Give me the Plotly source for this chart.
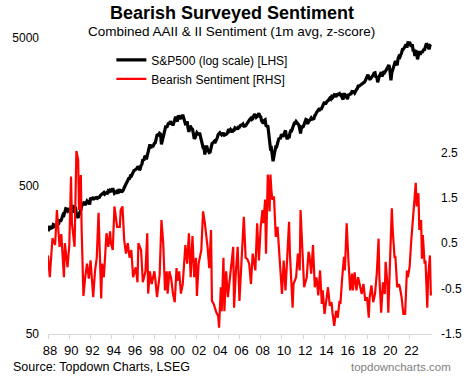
import math
import pandas as pd
import plotly.graph_objects as go

# ---------------- data ----------------
# S&P 500 month-end levels, Dec-1987 .. Dec-2023 (plotted at the start of the following month)
spx_start = "1988-01-01"
spx = [
    247,
    257, 268, 259, 261, 262, 274, 272, 262, 272, 279, 274, 278,
    297, 289, 295, 310, 321, 318, 346, 351, 349, 340, 346, 353,
    329, 332, 340, 331, 361, 358, 356, 323, 306, 304, 322, 330,
    344, 367, 375, 375, 390, 371, 388, 395, 388, 392, 375, 417,
    409, 413, 404, 415, 415, 408, 424, 414, 418, 419, 431, 436,
    439, 443, 452, 440, 450, 451, 448, 464, 459, 468, 462, 466,
    482, 467, 446, 451, 457, 444, 458, 475, 463, 472, 454, 459,
    470, 487, 501, 515, 533, 545, 562, 562, 584, 582, 605, 616,
    636, 640, 646, 654, 669, 671, 640, 652, 687, 705, 757, 741,
    786, 791, 757, 801, 848, 885, 954, 899, 947, 915, 955, 970,
    980, 1049, 1102, 1112, 1091, 1134, 1121, 957, 1017, 1099, 1164, 1229,
    1280, 1238, 1286, 1335, 1302, 1373, 1329, 1320, 1283, 1363, 1389, 1469,
    1394, 1366, 1499, 1452, 1421, 1455, 1431, 1518, 1437, 1429, 1315, 1320,
    1366, 1240, 1160, 1249, 1256, 1224, 1211, 1134, 1041, 1060, 1139, 1148,
    1130, 1107, 1147, 1077, 1067, 990, 912, 916, 815, 886, 936, 880,
    856, 841, 848, 917, 964, 975, 990, 1008, 996, 1051, 1058, 1112,
    1131, 1145, 1126, 1107, 1121, 1141, 1102, 1104, 1115, 1130, 1174, 1212,
    1181, 1204, 1181, 1157, 1192, 1191, 1234, 1220, 1229, 1207, 1249, 1248,
    1280, 1281, 1295, 1311, 1270, 1270, 1277, 1304, 1336, 1378, 1401, 1418,
    1438, 1407, 1421, 1482, 1531, 1503, 1455, 1474, 1527, 1549, 1481, 1468,
    1379, 1331, 1323, 1386, 1400, 1280, 1267, 1283, 1165, 969, 896, 903,
    826, 735, 798, 873, 919, 919, 987, 1021, 1057, 1036, 1096, 1115,
    1074, 1104, 1169, 1187, 1089, 1031, 1102, 1049, 1141, 1183, 1181, 1258,
    1286, 1327, 1326, 1364, 1345, 1321, 1292, 1219, 1131, 1253, 1247, 1258,
    1312, 1366, 1408, 1398, 1310, 1362, 1379, 1407, 1441, 1412, 1416, 1426,
    1498, 1515, 1569, 1598, 1631, 1606, 1686, 1633, 1682, 1757, 1806, 1848,
    1783, 1859, 1872, 1884, 1924, 1960, 1931, 2003, 1972, 2018, 2068, 2059,
    1995, 2105, 2068, 2086, 2107, 2063, 2104, 1972, 1920, 2079, 2080, 2044,
    1940, 1932, 2060, 2065, 2097, 2099, 2174, 2171, 2168, 2126, 2199, 2239,
    2279, 2364, 2363, 2384, 2412, 2423, 2470, 2472, 2519, 2575, 2648, 2674,
    2824, 2714, 2641, 2648, 2705, 2718, 2816, 2902, 2914, 2712, 2760, 2507,
    2704, 2784, 2834, 2946, 2752, 2942, 2980, 2926, 2977, 3038, 3141, 3231,
    3226, 2954, 2585, 2912, 3044, 3100, 3271, 3500, 3363, 3270, 3622, 3756,
    3714, 3811, 3973, 4181, 4204, 4298, 4395, 4523, 4308, 4605, 4567, 4700,
    4516, 4374, 4530, 4132, 4132, 3785, 4130, 3955, 3586, 3872, 4080, 3840,
    4077, 3970, 4109, 4169, 4180, 4450, 4589, 4508, 4288, 4194, 4460, 4530,
]

bear_dates = [
    "1988-01", "1988-03", "1988-06", "1988-09", "1988-11", "1989-02", "1989-04", "1989-07", "1989-08", "1989-11",
    "1990-01", "1990-03", "1990-04", "1990-07", "1990-09", "1990-11", "1990-12", "1991-02", "1991-03", "1991-05",
    "1991-07", "1991-09", "1991-11", "1992-01", "1992-04", "1992-06", "1992-08", "1992-10", "1993-01", "1993-02",
    "1993-04", "1993-07", "1993-09", "1993-11", "1993-12", "1994-02", "1994-04", "1994-07", "1994-10", "1994-11",
    "1995-01", "1995-03", "1995-05", "1995-07", "1995-09", "1995-11", "1996-01", "1996-04", "1996-06", "1996-07",
    "1996-10", "1996-12", "1997-03", "1997-05", "1997-06", "1997-08", "1997-10", "1998-01", "1998-02", "1998-04",
    "1998-07", "1998-09", "1998-11", "1999-01", "1999-03", "1999-04", "1999-06", "1999-08", "1999-10", "1999-12",
    "2000-02", "2000-03", "2000-05", "2000-07", "2000-09", "2000-12", "2001-02", "2001-04", "2001-06", "2001-08",
    "2001-10", "2001-12", "2002-01", "2002-03", "2002-06", "2002-08", "2002-10", "2002-11", "2003-01", "2003-03",
    "2003-05", "2003-06", "2003-08", "2003-11", "2004-01", "2004-02", "2004-04", "2004-05", "2004-07", "2004-08",
    "2004-10", "2004-12", "2005-02", "2005-04", "2005-06", "2005-07", "2005-09", "2005-11", "2006-01", "2006-03",
    "2006-06", "2006-08", "2006-10", "2006-12", "2007-02", "2007-04", "2007-05", "2007-07", "2007-09", "2007-11",
    "2008-01", "2008-03", "2008-04", "2008-06", "2008-07", "2008-08", "2008-09", "2008-11", "2008-12", "2009-01",
    "2009-02", "2009-04", "2009-06", "2009-08", "2009-10", "2009-11", "2010-01", "2010-03", "2010-05", "2010-07",
    "2010-09", "2010-10", "2011-01", "2011-02", "2011-05", "2011-07", "2011-09", "2011-10", "2011-12", "2012-02",
    "2012-05", "2012-07", "2012-08", "2012-10", "2012-12", "2013-02", "2013-04", "2013-06", "2013-08", "2013-10",
    "2013-11", "2014-01", "2014-03", "2014-05", "2014-07", "2014-09", "2014-10", "2014-12", "2015-02", "2015-04",
    "2015-06", "2015-07", "2015-09", "2015-11", "2015-12", "2016-02", "2016-04", "2016-06", "2016-08", "2016-09",
    "2016-11", "2017-01", "2017-03", "2017-05", "2017-07", "2017-09", "2017-11", "2018-01", "2018-03", "2018-04",
    "2018-06", "2018-08", "2018-10", "2018-12", "2019-02", "2019-03", "2019-05", "2019-07", "2019-09", "2019-10",
    "2019-12", "2020-01", "2020-03", "2020-05", "2020-06", "2020-08", "2020-09", "2020-11", "2021-01", "2021-02",
    "2021-04", "2021-06", "2021-08", "2021-10", "2021-11", "2022-01", "2022-03", "2022-05", "2022-07", "2022-08",
    "2022-09", "2022-11", "2022-12", "2023-02", "2023-03", "2023-04", "2023-06", "2023-07", "2023-09", "2023-10",
    "2023-12", "2024-01",
]
bear_values = [
    0.23, -0.25, 0.61, 0.46, 1.23, 0.42, 0.70, -0.25, 0.50, -0.03,
    0.46, 1.97, 0.94, 0.42, 2.53, 2.34, 1.23, 2.00, 0.79, -0.66,
    -0.25, 0.05, -0.28, 0.12, -0.69, -0.12, 0.18, 1.17, -0.72, 0.05,
    -0.25, 0.72, 0.42, 0.76, 0.50, 0.35, 1.31, 0.86, 0.86, 1.23,
    1.31, 0.57, 0.27, 0.50, 0.18, 0.35, -0.25, -0.03, -0.36, 0.50,
    0.35, -0.36, -0.12, 0.72, -0.61, -0.12, -0.40, -0.12, -0.28, -0.69,
    -0.20, 1.01, 0.50, -0.54, -0.12, -0.61, -0.12, -0.28, -0.61, -0.80,
    -0.05, -0.33, -0.12, -0.61, -0.40, 0.46, 0.05, 0.72, -0.25, 0.66,
    -0.25, 0.18, -0.66, 0.05, 0.35, 1.20, 0.94, 0.79, 0.42, -0.05,
    0.79, -0.77, -0.84, -1.03, -1.10, -1.36, -0.47, -1.00, 0.18, -1.00,
    -0.12, -0.69, -0.25, 0.05, 0.42, -0.92, -0.12, 0.42, -0.77, 0.05,
    1.08, 0.18, 0.15, 0.05, -0.40, 0.27, 0.12, -0.10, 0.94, 0.12,
    0.86, 1.23, 0.94, 1.46, 0.27, 1.68, 2.01, 1.20, 2.01, 1.68,
    1.46, 1.53, 0.64, 0.86, 0.20, 0.05, -0.62, 0.12, -0.54, 0.20,
    0.97, 0.27, -0.92, -0.40, -0.25, 0.27, -0.10, 1.23, 0.34, -0.47,
    -0.25, 0.31, 0.23, -0.17, 0.46, -0.47, -0.25, -0.65, -0.10, -0.84,
    -0.54, -1.06, -0.77, -0.47, -0.88, -0.80, -1.03, -1.32, -0.99, -1.14,
    -0.77, -0.84, -0.25, 0.20, -0.10, 0.94, 0.12, -0.54, -0.17, -0.54,
    -0.14, -0.54, -0.25, -0.47, -0.62, -0.40, -0.77, -0.69, -1.14, -0.69,
    -0.43, -0.80, -0.62, -0.17, 0.60, -0.25, -1.03, -0.36, -0.62, 0.09,
    -0.40, -1.03, 0.20, 1.27, 0.79, 0.20, 0.20, -0.47, -0.40, -0.47,
    -0.69, -1.06, -1.06, -0.10, -0.25, -0.03, 0.57, 1.01, 1.60, 1.83,
    1.31, 1.60, 0.79, 1.01, 0.16, 0.68, 0.05, 0.12, -0.92, -0.25,
    0.23, -0.65,
]

x_tick_years = list(range(1988, 2023, 2))
lhs_ticks = [50, 500, 5000]
rhs_ticks = [-1.5, -0.5, 0.5, 1.5, 2.5]

title = "Bearish Surveyed Sentiment"
subtitle = "Combined AAII & II Sentiment (1m avg, z-score)"
source = "Source: Topdown Charts, LSEG"
brand = "topdowncharts.com"

# ---------------- figure ----------------
FONT = "Liberation Sans, Arial, sans-serif"
spx_dates = pd.date_range(spx_start, periods=len(spx), freq="MS")

fig = go.Figure()
fig.add_trace(go.Scatter(
    x=spx_dates, y=spx, name="S&P500 (log scale) [LHS]", mode="lines",
    line=dict(color="#000000", width=3.2), yaxis="y",
))
fig.add_trace(go.Scatter(
    x=pd.to_datetime(bear_dates), y=bear_values, name="Bearish Sentiment [RHS]", mode="lines",
    line=dict(color="#ff0000", width=2.2), yaxis="y2",
))

fig.update_layout(
    width=474, height=376,
    margin=dict(l=43, r=36, t=38, b=42),
    paper_bgcolor="white", plot_bgcolor="white",
    font=dict(family=FONT, size=12, color="#000000"),
    showlegend=True,
    legend=dict(
        x=0.165, y=0.975, xanchor="left", yanchor="top",
        bgcolor="rgba(0,0,0,0)", font=dict(size=12, color="#000000"),
        itemwidth=30, tracegroupgap=0,
    ),
    xaxis=dict(
        type="date",
        range=["1987-12-31", "2024-02-10"],
        tickvals=[f"{y}-01-01" for y in x_tick_years],
        ticktext=[f"{y % 100:02d}" for y in x_tick_years],
        showgrid=False, zeroline=False,
        showline=True, linecolor="#d9d9d9", linewidth=1,
        ticks="outside", ticklen=4, tickcolor="#d9d9d9",
        tickfont=dict(size=13, color="#000000"),
        ticklabelshift=2,
    ),
    yaxis=dict(
        type="log",
        range=[math.log10(50), math.log10(5000)],
        tickvals=lhs_ticks, ticktext=[str(v) for v in lhs_ticks],
        showgrid=False, zeroline=False, showline=False, ticks="",
        tickfont=dict(size=12, color="#000000"),
        ticklabelstandoff=8,
    ),
    yaxis2=dict(
        overlaying="y", side="right",
        range=[-1.5, 5.02],
        tickvals=rhs_ticks, ticktext=[f"{v:.1f}" for v in rhs_ticks],
        showgrid=False, zeroline=False, showline=False, ticks="",
        tickfont=dict(size=12, color="#000000"),
        ticklabelstandoff=8,
    ),
    annotations=[
        dict(text=f"<b>{title}</b>", xref="paper", yref="paper", x=0.478, y=1.0845,
             xanchor="center", yanchor="middle", showarrow=False,
             font=dict(size=18, color="#000000")),
        dict(text=subtitle, xref="paper", yref="paper", x=0.478, y=1.0203,
             xanchor="center", yanchor="middle", showarrow=False,
             font=dict(size=13.5, color="#000000")),
        dict(text=source, xref="paper", yref="paper", x=-0.097, y=-0.1115,
             xanchor="left", yanchor="middle", showarrow=False,
             font=dict(size=12.5, color="#000000")),
        dict(text=brand, xref="paper", yref="paper", x=1.0557, y=-0.1115,
             xanchor="right", yanchor="middle", showarrow=False,
             font=dict(size=11.5, color="#808080")),
    ],
)

fig.write_html(
    "out.html",
    config={"displayModeBar": False},
    post_script="document.body.style.margin='0';document.body.style.overflow='hidden';",
)
